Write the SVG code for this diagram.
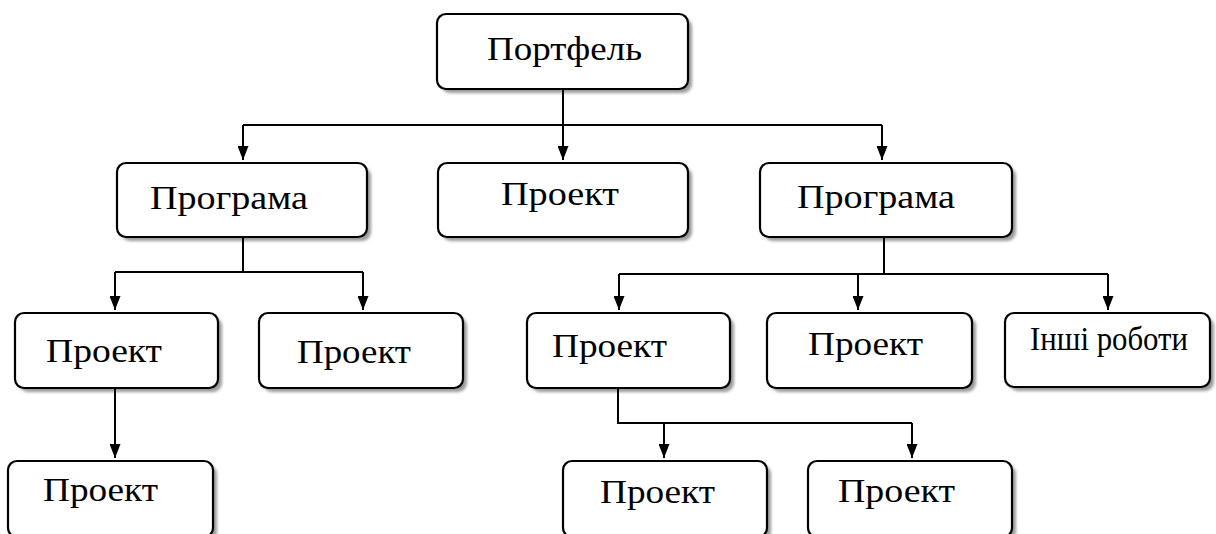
<svg xmlns="http://www.w3.org/2000/svg" width="1216" height="534" viewBox="0 0 1216 534">
<style>
.box{fill:#fff;stroke:#000;stroke-width:2.2}
.sh{fill:#9a9a9a;filter:url(#blur)}
.t{font-family:"Liberation Serif","Times New Roman",serif;font-size:34px;fill:#000}
.c{fill:none;stroke:#000;stroke-width:2}
</style>
<defs>
<filter id="blur" x="-10%" y="-10%" width="120%" height="130%"><feGaussianBlur stdDeviation="1.6"/></filter>
<marker id="ah" viewBox="0 0 14 11" refX="14" refY="5.5" markerWidth="14" markerHeight="11" markerUnits="userSpaceOnUse" orient="auto"><path d="M0,0 L14,5.5 L0,11 z" fill="#000"/></marker>
</defs>
<rect width="1216" height="534" fill="#fff"/>

<g id="portfolio">
<rect class="sh" x="441" y="18" width="251" height="75" rx="9"/>
<rect class="box" x="437" y="14" width="251" height="75" rx="9"/>
<text class="t" x="487" y="60" textLength="155" lengthAdjust="spacingAndGlyphs">Портфель</text>
</g>

<g id="program-left">
<rect class="sh" x="121" y="167" width="250" height="74" rx="9"/>
<rect class="box" x="117" y="163" width="250" height="74" rx="9"/>
<text class="t" x="150" y="209" textLength="158" lengthAdjust="spacingAndGlyphs">Програма</text>
</g>
<g id="project-mid">
<rect class="sh" x="442" y="167" width="250" height="74" rx="9"/>
<rect class="box" x="438" y="163" width="250" height="74" rx="9"/>
<text class="t" x="501" y="205" textLength="118" lengthAdjust="spacingAndGlyphs">Проект</text>
</g>
<g id="program-right">
<rect class="sh" x="764" y="167" width="252" height="74" rx="9"/>
<rect class="box" x="760" y="163" width="252" height="74" rx="9"/>
<text class="t" x="797" y="208" textLength="158" lengthAdjust="spacingAndGlyphs">Програма</text>
</g>

<g id="project-l1">
<rect class="sh" x="19" y="317" width="203" height="75" rx="9"/>
<rect class="box" x="15" y="313" width="203" height="75" rx="9"/>
<text class="t" x="46" y="362" textLength="116" lengthAdjust="spacingAndGlyphs">Проект</text>
</g>
<g id="project-l2">
<rect class="sh" x="263" y="317" width="204" height="75" rx="9"/>
<rect class="box" x="259" y="313" width="204" height="75" rx="9"/>
<text class="t" x="297" y="363" textLength="114" lengthAdjust="spacingAndGlyphs">Проект</text>
</g>
<g id="project-r1">
<rect class="sh" x="531" y="317" width="203" height="75" rx="9"/>
<rect class="box" x="527" y="313" width="203" height="75" rx="9"/>
<text class="t" x="552" y="357" textLength="115" lengthAdjust="spacingAndGlyphs">Проект</text>
</g>
<g id="project-r2">
<rect class="sh" x="771" y="317" width="205" height="75" rx="9"/>
<rect class="box" x="767" y="313" width="205" height="75" rx="9"/>
<text class="t" x="808" y="355" textLength="115" lengthAdjust="spacingAndGlyphs">Проект</text>
</g>
<g id="other-work">
<rect class="sh" x="1009" y="317" width="205" height="74" rx="9"/>
<rect class="box" x="1005" y="313" width="205" height="74" rx="9"/>
<text class="t" x="1030" y="350" font-size="28" textLength="158" lengthAdjust="spacingAndGlyphs">Інші роботи</text>
</g>

<g id="project-l3">
<rect class="sh" x="12" y="465" width="205" height="76" rx="9"/>
<rect class="box" x="8" y="461" width="205" height="76" rx="9"/>
<text class="t" x="43" y="501" textLength="115" lengthAdjust="spacingAndGlyphs">Проект</text>
</g>
<g id="project-r3">
<rect class="sh" x="567" y="465" width="204" height="76" rx="9"/>
<rect class="box" x="563" y="461" width="204" height="76" rx="9"/>
<text class="t" x="600" y="503" textLength="115" lengthAdjust="spacingAndGlyphs">Проект</text>
</g>
<g id="project-r4">
<rect class="sh" x="812" y="465" width="204" height="76" rx="9"/>
<rect class="box" x="808" y="461" width="204" height="76" rx="9"/>
<text class="t" x="838" y="502" textLength="117" lengthAdjust="spacingAndGlyphs">Проект</text>
</g>

<g id="connectors">
<path class="c" d="M563,90 V125"/>
<path class="c" d="M243,125 H882"/>
<path class="c" d="M243,125 V160" marker-end="url(#ah)"/>
<path class="c" d="M563,125 V160" marker-end="url(#ah)"/>
<path class="c" d="M882,125 V160" marker-end="url(#ah)"/>

<path class="c" d="M243,237 V272 M115,272 H363"/>
<path class="c" d="M115,272 V310" marker-end="url(#ah)"/>
<path class="c" d="M363,272 V310" marker-end="url(#ah)"/>

<path class="c" d="M884,237 V274 M619,274 H1108"/>
<path class="c" d="M619,274 V310" marker-end="url(#ah)"/>
<path class="c" d="M858,274 V310" marker-end="url(#ah)"/>
<path class="c" d="M1108,274 V310" marker-end="url(#ah)"/>

<path class="c" d="M115,388 V458" marker-end="url(#ah)"/>

<path class="c" d="M618,388 V423 H912"/>
<path class="c" d="M664,423 V458" marker-end="url(#ah)"/>
<path class="c" d="M912,423 V458" marker-end="url(#ah)"/>
</g>
</svg>
